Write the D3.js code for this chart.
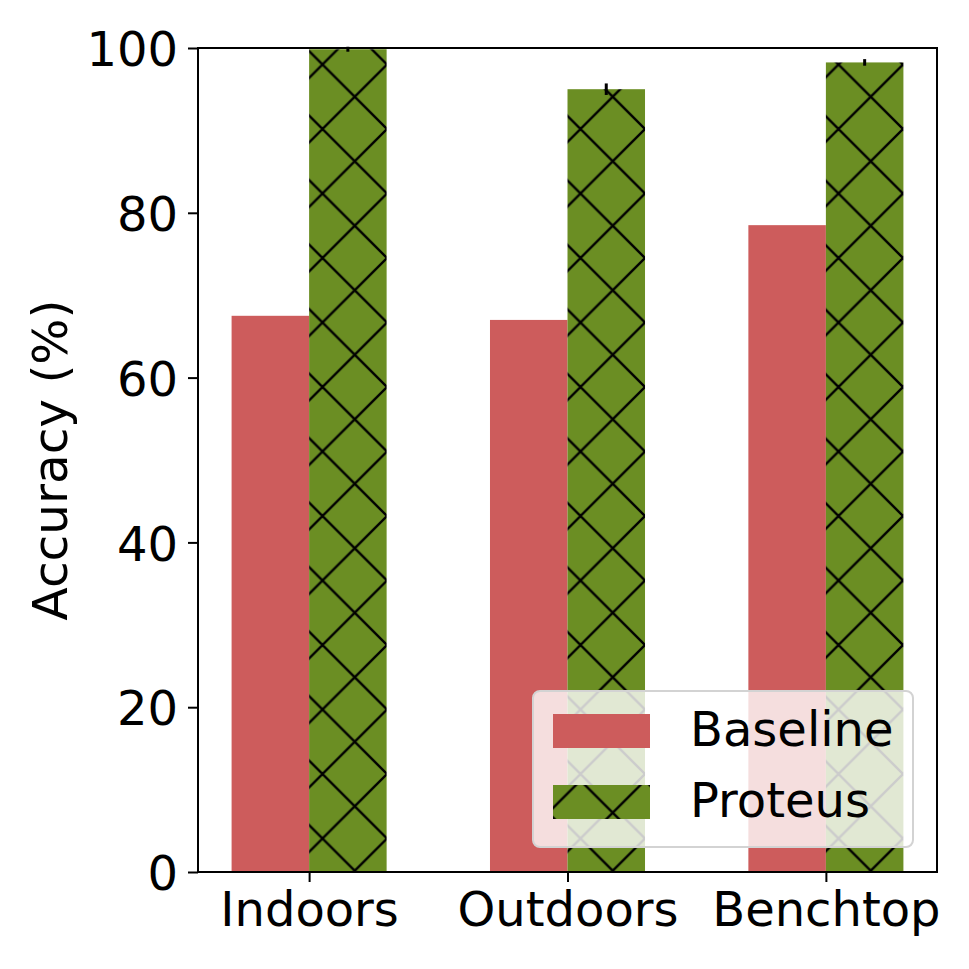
<!DOCTYPE html>
<html>
<head>
<meta charset="utf-8">
<script src="https://cdn.jsdelivr.net/npm/d3@7"></script>
<style>
  body { margin: 0; background: #fff; }
  text { font-family: "DejaVu Sans", sans-serif; fill: #000; }
</style>
</head>
<body>
<div id="chart"></div>
<script>
// data
const categories = ["Indoors", "Outdoors", "Benchtop"];
const baseline = [67.5, 67.0, 78.5];
const proteus = [99.85, 95.0, 98.25];
const proteusErr = [0.3, 0.7, 0.4];
const seriesNames = ["Baseline", "Proteus"];
const yTicks = [0, 20, 40, 60, 80, 100];

const W = 969, H = 969;
const margin = {top: 48, right: 32, bottom: 97, left: 198};
const barW = 0.3;

const svg = d3.select("#chart").append("svg")
    .attr("width", W)
    .attr("height", H);

// hatch 'x' pattern anchored to the page
const s = 64.5;
const defs = svg.append("defs");
const pat = defs.append("pattern")
    .attr("id", "xhatch")
    .attr("patternUnits", "userSpaceOnUse")
    .attr("width", s).attr("height", s);
pat.append("rect").attr("width", s).attr("height", s).attr("fill", "#6B8E23");
pat.append("path")
    .attr("d", `M${-s/2},${s/2}L${s/2},${-s/2} M0,${s}L${s},0 M${s/2},${1.5*s}L${1.5*s},${s/2}` +
               ` M${-s/2},${-s/2}L${1.5*s},${1.5*s} M${-s/2},${s/2}L${s/2},${1.5*s} M${s/2},${-s/2}L${1.5*s},${s/2}`)
    .attr("stroke", "#000").attr("stroke-width", 2.4).attr("fill", "none");

defs.append("clipPath").attr("id", "plotclip")
  .append("rect")
    .attr("x", margin.left).attr("y", margin.top - 2)
    .attr("width", W - margin.left - margin.right)
    .attr("height", H - margin.top - margin.bottom + 2);

const x = d3.scaleLinear()
    .domain([-0.43, 2.43])
    .range([margin.left, W - margin.right]);

const y = d3.scaleLinear()
    .domain([0, 100])
    .range([H - margin.bottom, margin.top]);

const plot = svg.append("g").attr("clip-path", "url(#plotclip)");

// baseline bars
plot.selectAll(".bar-base")
    .data(baseline)
  .enter().append("rect")
    .attr("class", "bar-base")
    .attr("x", (d, i) => x(i - barW))
    .attr("width", x(barW) - x(0))
    .attr("y", d => y(d))
    .attr("height", d => y(0) - y(d))
    .attr("fill", "#CD5C5C");

// proteus bars
plot.selectAll(".bar-prot")
    .data(proteus)
  .enter().append("rect")
    .attr("class", "bar-prot")
    .attr("x", (d, i) => x(i))
    .attr("width", x(barW) - x(0))
    .attr("y", d => y(d))
    .attr("height", d => y(0) - y(d))
    .attr("fill", "url(#xhatch)");

// error bars
svg.selectAll(".err")
    .data(proteus)
  .enter().append("line")
    .attr("class", "err")
    .attr("x1", (d, i) => x(i + barW / 2))
    .attr("x2", (d, i) => x(i + barW / 2))
    .attr("y1", (d, i) => y(d - proteusErr[i]))
    .attr("y2", (d, i) => y(d + proteusErr[i]))
    .attr("stroke", "#000")
    .attr("stroke-width", 3);

// axes
const yAxis = svg.append("g")
    .attr("transform", `translate(${margin.left},0)`)
    .call(d3.axisLeft(y).tickValues(yTicks).tickSize(10).tickPadding(10));

const xAxis = svg.append("g")
    .attr("transform", `translate(0,${H - margin.bottom})`)
    .call(d3.axisBottom(x).tickValues([0, 1, 2]).tickFormat(i => categories[i]).tickSize(10).tickPadding(8));

[yAxis, xAxis].forEach(g => {
  g.select(".domain").remove();
  g.selectAll(".tick line").attr("stroke", "#000").attr("stroke-width", 2);
  g.selectAll(".tick text").style("font-size", "48px").attr("fill", "#000");
});
yAxis.selectAll(".tick text").attr("dy", "0.37em");
xAxis.selectAll(".tick text").attr("dy", "0.74em");

// spines
svg.append("rect")
    .attr("x", margin.left).attr("y", margin.top)
    .attr("width", W - margin.left - margin.right)
    .attr("height", H - margin.top - margin.bottom)
    .attr("fill", "none")
    .attr("stroke", "#000")
    .attr("stroke-width", 2);

// y label
svg.append("text")
    .attr("transform", `translate(67,${(margin.top + H - margin.bottom) / 2}) rotate(-90)`)
    .attr("text-anchor", "middle")
    .style("font-size", "48.5px")
    .text("Accuracy (%)");

// legend
const legend = svg.append("g");
legend.append("rect")
    .attr("x", 533).attr("y", 691)
    .attr("width", 380).attr("height", 156)
    .attr("rx", 7)
    .attr("fill", "#fff").attr("fill-opacity", 0.8)
    .attr("stroke", "#d3d3d3").attr("stroke-width", 2);

const items = legend.selectAll(".item")
    .data(seriesNames)
  .enter().append("g")
    .attr("class", "item")
    .attr("transform", (d, i) => `translate(0,${i * 71})`);

items.append("rect")
    .attr("x", 553).attr("y", 714)
    .attr("width", 97).attr("height", 34)
    .attr("fill", (d, i) => i === 0 ? "#CD5C5C" : "url(#xhatch)");

items.append("text")
    .attr("x", 690).attr("y", 746)
    .style("font-size", "48px")
    .text(d => d);
</script>
</body>
</html>
